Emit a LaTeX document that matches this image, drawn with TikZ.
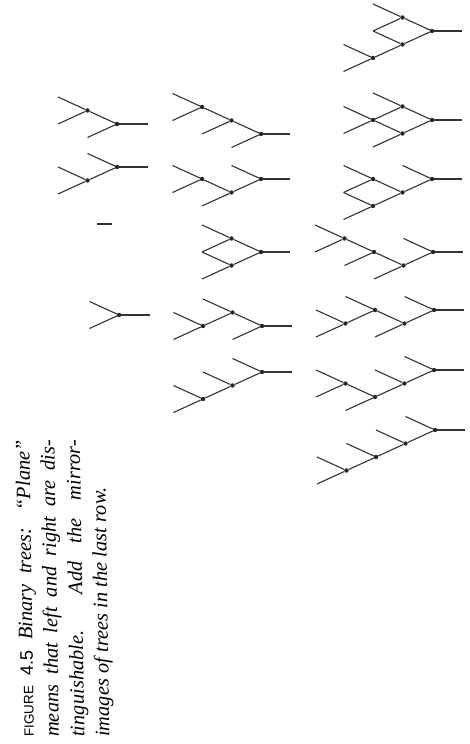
\documentclass[tikz,border=0pt]{standalone}
\usepackage{fontspec}
\setmainfont{Liberation Serif}
\setsansfont{Liberation Sans}
\begin{document}
\begin{tikzpicture}[x=1pt,y=1pt,
  treeline/.style={draw=black!80, line width=1.1pt},
  inode/.style={circle, fill=black!85, inner sep=0pt, minimum size=4.4pt},
  bt/.style={grow=left, level distance=29.5pt, sibling distance=27pt,
    edge from parent/.style={draw=black!80, line width=1.1pt}},
  capline/.style={anchor=base west, rotate=90.9, inner sep=0pt,
    font=\fontsize{20.5}{24}\selectfont\itshape}]
\fill[white] (0,0) rectangle (470,744);
\useasboundingbox (0,0) rectangle (470,744);

% caption
\node[capline] (cap1) at (34,7) {\makebox[297pt][s]{{\fontsize{13.5}{12}\selectfont\sffamily\upshape FIGURE} {\fontsize{18}{18}\selectfont\sffamily\upshape 4.5} Binary trees: “Plane”}};
\node[capline] (cap2) at (59,7) {\makebox[297pt][s]{means that left and right are dis-}};
\node[capline] (cap3) at (84.5,7) {\makebox[297pt][s]{tinguishable.\ \ Add the mirror-}};
\node[capline] (cap4) at (109.5,7) {images of trees in the last row.};

\begin{scope}[bt]
% n = 0
\coordinate (z0) at (97,520);
\coordinate (z1) at (112,520);
\draw[treeline] (z0) -- (z1);

% n = 1
\node[inode] (a1) at (119,429) {} child {coordinate} child {coordinate};
\coordinate (a1x) at (150,429);

% n = 2
\node[inode] (b1) at (117,620) {}
  child {node[inode]{} child {coordinate} child {coordinate}}
  child {coordinate};
\node[inode] (b2) at (117,577) {}
  child {coordinate}
  child {node[inode]{} child {coordinate} child {coordinate}};
\coordinate (b1x) at (148,620);
\coordinate (b2x) at (148,577);

% n = 3
\node[inode] (c1) at (261,610) {}
  child {node[inode]{} child {node[inode]{} child {coordinate} child {coordinate}} child {coordinate}}
  child {coordinate};
\node[inode] (c2) at (261,565) {}
  child {coordinate}
  child {node[inode]{} child {node[inode]{} child {coordinate} child {coordinate}} child {coordinate}};
\node[inode] (c3) at (261,492) {}
  child {node[inode]{} child {coordinate} child {coordinate}}
  child {node[inode]{} child {coordinate} child {coordinate}};
\node[inode] (c4) at (262,418) {}
  child {node[inode]{} child {coordinate} child {node[inode]{} child {coordinate} child {coordinate}}}
  child {coordinate};
\node[inode] (c5) at (262,372) {}
  child {coordinate}
  child {node[inode]{} child {coordinate} child {node[inode]{} child {coordinate} child {coordinate}}};
\coordinate (c1x) at (290,610);
\coordinate (c2x) at (290,565);
\coordinate (c3x) at (290,492);
\coordinate (c4x) at (292,418);
\coordinate (c5x) at (292,372);

% n = 4
\node[inode] (d1) at (432,713) {}
  child {node[inode]{} child {coordinate} child {coordinate}}
  child {node[inode]{} child {coordinate} child {node[inode]{} child {coordinate} child {coordinate}}};
\node[inode] (d2) at (432,624) {}
  child {node[inode]{} child {coordinate} child {coordinate}}
  child {node[inode]{} child {node[inode]{} child {coordinate} child {coordinate}} child {coordinate}};
\node[inode] (d3) at (432,565) {}
  child {coordinate}
  child {node[inode]{} child {node[inode]{} child {coordinate} child {coordinate}} child {node[inode]{} child {coordinate} child {coordinate}}};
\node[inode] (d4) at (433,492) {}
  child {coordinate}
  child {node[inode]{} child {node[inode]{} child {node[inode]{} child {coordinate} child {coordinate}} child {coordinate}} child {coordinate}};
\node[inode] (d5) at (434,434) {}
  child {coordinate}
  child {node[inode]{} child {node[inode]{} child {coordinate} child {node[inode]{} child {coordinate} child {coordinate}}} child {coordinate}};
\node[inode] (d6) at (434,374) {}
  child {coordinate}
  child {node[inode]{} child {coordinate} child {node[inode]{} child {node[inode]{} child {coordinate} child {coordinate}} child {coordinate}}};
\node[inode] (d7) at (435,314) {}
  child {coordinate}
  child {node[inode]{} child {coordinate} child {node[inode]{} child {coordinate} child {node[inode]{} child {coordinate} child {coordinate}}}};
\coordinate (d1x) at (462,713);
\coordinate (d2x) at (462,624);
\coordinate (d3x) at (462,565);
\coordinate (d4x) at (463,492);
\coordinate (d5x) at (464,434);
\coordinate (d6x) at (464,374);
\coordinate (d7x) at (465,314);
\end{scope}

\foreach \r in {a1,b1,b2,c1,c2,c3,c4,c5,d1,d2,d3,d4,d5,d6,d7}
  \draw[treeline] (\r) -- (\r x);
\end{tikzpicture}
\end{document}
